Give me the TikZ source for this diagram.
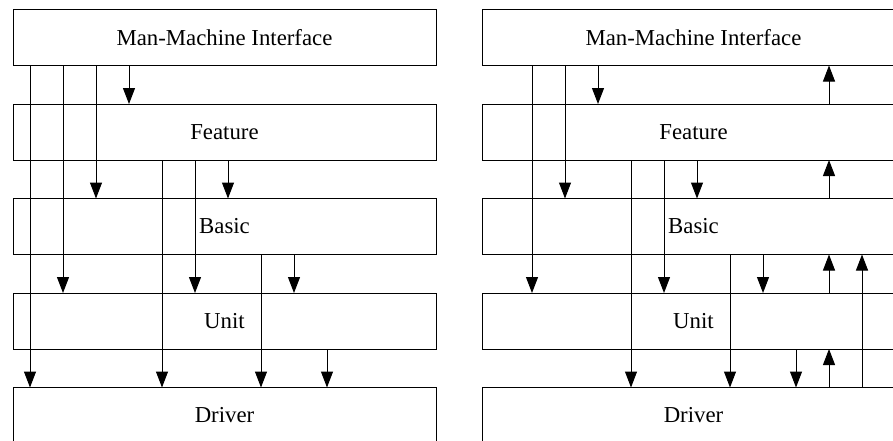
\documentclass[tikz,border=0pt]{standalone}
\usepackage{fontspec}
\setmainfont{Liberation Serif}
\usepackage{tikz}
\usetikzlibrary{arrows.meta,positioning}
\tikzset{
  layerbox/.style={rectangle, draw, line width=0.5pt, minimum width=211.5pt, minimum height=28pt, inner sep=0pt, outer sep=0pt, font=\fontsize{11.4}{13}\selectfont},
  arrow/.style={-{Triangle[length=8pt, width=6pt]}, line width=0.5pt},
}

\begin{document}
\begin{tikzpicture}[x=0.5pt, y=-0.5pt, node distance=19.25pt]
  \useasboundingbox (0,0) rectangle (893,440);

  % Left stack - strict top-down calls
  \node[layerbox] (lmmi) at (224.5,37.5) {Man-Machine Interface};
  \node[layerbox, below=of lmmi] (lfeat) {Feature};
  \node[layerbox, below=of lfeat] (lbasic) {Basic};
  \node[layerbox, below=of lbasic] (lunit) {Unit};
  \node[layerbox, below=of lunit] (ldrv) {Driver};

  % Right stack - same layers, shifted
  \node[layerbox, right=23pt of lmmi] (rmmi) {Man-Machine Interface};
  \node[layerbox, below=of rmmi] (rfeat) {Feature};
  \node[layerbox, below=of rfeat] (rbasic) {Basic};
  \node[layerbox, below=of rbasic] (runit) {Unit};
  \node[layerbox, below=of runit] (rdrv) {Driver};

  % Downward calls, one column per pair
  \foreach \k/\a/\b in {0/mmi/drv, 1/mmi/unit, 2/mmi/basic, 3/mmi/feat,
                        4/feat/drv, 5/feat/unit, 6/feat/basic,
                        7/basic/drv, 8/basic/unit, 9/unit/drv} {
    \draw[arrow] ([xshift={8.5pt+16.5pt*\k}]l\a.south west) -- ([xshift={8.5pt+16.5pt*\k}]l\b.north west);
  }
  \foreach \k/\a/\b in {1/mmi/unit, 2/mmi/basic, 3/mmi/feat,
                        4/feat/drv, 5/feat/unit, 6/feat/basic,
                        7/basic/drv, 8/basic/unit, 9/unit/drv} {
    \draw[arrow] ([xshift={8.5pt+16.5pt*\k}]r\a.south west) -- ([xshift={8.5pt+16.5pt*\k}]r\b.north west);
  }

  % Upward returns on the right
  \foreach \a/\b in {feat/mmi, basic/feat, unit/basic, drv/unit} {
    \draw[arrow] ([xshift=173.5pt]r\a.north west) -- ([xshift=173.5pt]r\b.south west);
  }
  \draw[arrow] ([xshift=190pt]rdrv.north west) -- ([xshift=190pt]rbasic.south west);

\end{tikzpicture}
\end{document}
